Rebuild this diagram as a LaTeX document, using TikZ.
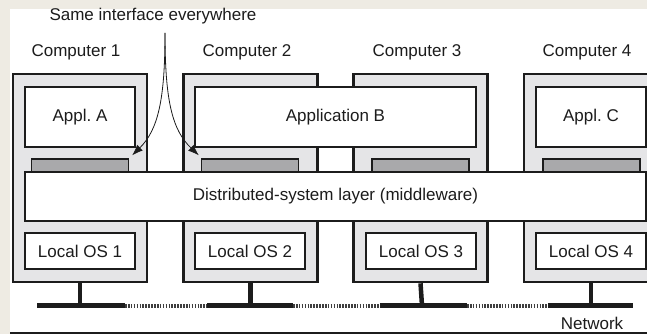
\documentclass[tikz,border=0pt]{standalone}
\usepackage{fontspec}
\setmainfont{Liberation Sans}
\usetikzlibrary{arrows.meta}

\definecolor{paper}{HTML}{EEEBE3}
\definecolor{ink}{HTML}{1C1C1C}
\definecolor{hostgray}{HTML}{E5E5E7}
\definecolor{ifgray}{HTML}{A9A9AB}

\begin{document}
\frenchspacing
\begin{tikzpicture}[
    x=1pt, y=-1pt,
    every node/.style={font=\fontsize{17}{20}\selectfont, text=ink},
    host/.style={rectangle, draw=ink, fill=hostgray, line width=2.6pt, minimum width=134pt, minimum height=208pt, inner sep=0pt},
    layerbox/.style={rectangle, draw=ink, fill=white, line width=1.4pt, minimum height=#1, inner sep=0pt},
    ifbox/.style={rectangle, draw=ink, fill=ifgray, line width=1.2pt, minimum width=97pt, minimum height=22pt, inner sep=0pt},
    arrow/.style={->, line width=0.8pt, draw=ink, >={Latex[length=11pt,width=8pt]}},
    stem/.style={line width=4.5pt, draw=ink},
    wire/.style={line width=5pt, draw=ink},
    dotwire/.style={line width=4pt, draw=ink!85, dash pattern=on 1.6pt off 1.3pt}
]
\useasboundingbox (0,0) rectangle (647,334);

% background
\fill[paper] (0,0) rectangle (647,334);
\fill[white] (10,9) rectangle (647,334);
\draw[ink, line width=1.2pt] (10,333) -- (647,333);

% computers
\node[host] (c1) at (80,178) {};
\node[host] (c2) at (250.5,178) {};
\node[host] (c3) at (420.5,178) {};
\node[host] (c4) at (591,178) {};

\node (l1) at (76,52) {Computer 1};
\node (l2) at (247,52) {Computer 2};
\node (l3) at (417,52) {Computer 3};
\node (l4) at (587,52) {Computer 4};

% applications
\node[layerbox=60pt, minimum width=110pt] (appa) at (80,117) {Appl. A};
\node[layerbox=60pt, minimum width=281pt] (appb) at (335.5,117) {Application B};
\node[layerbox=60pt, minimum width=110pt] (appc) at (591,117) {Appl. C};

% interfaces
\node[ifbox] (if1) at (80,170) {};
\node[ifbox] (if2) at (250,170) {};
\node[ifbox] (if3) at (420.5,170) {};
\node[ifbox] (if4) at (591.5,170) {};

% middleware
\node[layerbox=49pt, minimum width=621pt] (mw) at (335.5,196.5) {Distributed-system layer (middleware)};

% local OS
\node[layerbox=36pt, minimum width=110pt] (os1) at (80,251) {Local OS 1};
\node[layerbox=36pt, minimum width=110pt] (os2) at (250,251) {Local OS 2};
\node[layerbox=36pt, minimum width=110pt] (os3) at (421,251) {Local OS 3};
\node[layerbox=36pt, minimum width=110pt] (os4) at (591,251) {Local OS 4};

% network
\coordinate (b1) at (80,305.5);
\coordinate (b2) at (250.5,305.5);
\coordinate (b3) at (422,305.5);
\coordinate (b4) at (591,305.5);
\coordinate (w1a) at (37,305.5);  \coordinate (w1b) at (125,305.5);
\coordinate (w2a) at (207,305.5); \coordinate (w2b) at (293,305.5);
\coordinate (w3a) at (380,305.5); \coordinate (w3b) at (467,305.5);
\coordinate (w4a) at (548,305.5); \coordinate (w4b) at (633,305.5);

\draw[stem] (c1.south) -- (b1);
\draw[stem] (c2.south) -- (b2);
\draw[stem] (c3.south) -- (b3);
\draw[stem] (c4.south) -- (b4);

\draw[wire] (w1a) -- (w1b);
\draw[wire] (w2a) -- (w2b);
\draw[wire] (w3a) -- (w3b);
\draw[wire] (w4a) -- (w4b);
\draw[dotwire] (w1b) -- (w2a);
\draw[dotwire] (w2b) -- (w3a);
\draw[dotwire] (w3b) -- (w4a);

\node (net) at (592,323) {Network};

% interface label
\node (same) at (153,16) {Same interface everywhere};
\coordinate (src) at (165,33);
\draw[arrow] (src) .. controls (165,100) and (158,130) .. ([xshift=3pt,yshift=3pt]if1.north east);
\draw[arrow] (src) .. controls (165,100) and (172,130) .. ([xshift=-2pt,yshift=3pt]if2.north west);

\end{tikzpicture}
\end{document}
